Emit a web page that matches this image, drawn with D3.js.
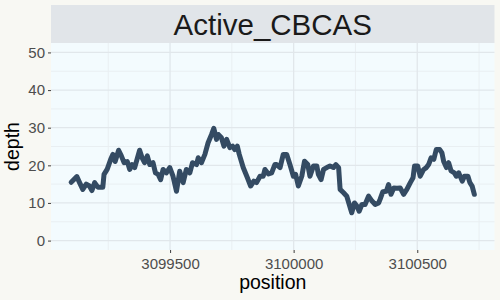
<!DOCTYPE html>
<html lang="en">
<head>
  <meta charset="UTF-8" />
  <title>Active_CBCAS depth</title>
  <script src="https://d3js.org/d3.v7.min.js"></script>
  <style>
    body { margin: 0; background: #f8f8f3; }
    svg { display: block; font-family: "Liberation Sans", Arial, sans-serif; }
  </style>
</head>
<body>
  <svg id="chart" width="500" height="300"></svg>

  <script>
    const title = "Active_CBCAS";

    const positions = [
      3099100, 3099123, 3099134, 3099147, 3099161, 3099174, 3099184, 3099195, 3099208, 3099228,
      3099233, 3099246, 3099260, 3099269, 3099278, 3099292, 3099303, 3099314, 3099327, 3099337,
      3099346, 3099357, 3099377, 3099387, 3099397, 3099408, 3099418, 3099431, 3099441, 3099452,
      3099462, 3099472, 3099485, 3099499, 3099512, 3099526, 3099539, 3099553, 3099566, 3099580,
      3099591, 3099607, 3099614, 3099627, 3099641, 3099654, 3099668, 3099677, 3099688, 3099695,
      3099708, 3099718, 3099729, 3099742, 3099753, 3099762, 3099772, 3099780, 3099796, 3099813,
      3099826, 3099839, 3099850, 3099864, 3099877, 3099884, 3099898, 3099911, 3099924, 3099931,
      3099945, 3099958, 3099972, 3099985, 3099999, 3100008, 3100019, 3100033, 3100044, 3100057,
      3100066, 3100080, 3100094, 3100100, 3100111, 3100121, 3100134, 3100147, 3100161, 3100171,
      3100182, 3100188, 3100202, 3100215, 3100225, 3100235, 3100246, 3100256, 3100265, 3100276,
      3100289, 3100303, 3100317, 3100330, 3100344, 3100350, 3100361, 3100375, 3100384, 3100394,
      3100405, 3100418, 3100431, 3100445, 3100458, 3100472, 3100483, 3100489, 3100502, 3100512,
      3100526, 3100537, 3100546, 3100556, 3100567, 3100577, 3100591, 3100600, 3100607, 3100618,
      3100627, 3100637, 3100650, 3100658, 3100668, 3100682, 3100691, 3100705, 3100713, 3100722,
      3100731
    ];

    const depths = [
      15.5, 17, 15.4, 13.6, 15, 14.5, 13.3, 15.4, 14.2, 14.2,
      17.6, 19, 21.6, 22.9, 21, 24, 22.5, 20.7, 21, 18.9,
      20.2, 19.4, 24, 22, 20.7, 22.5, 20.2, 20.7, 18, 17.6,
      16.2, 18.9, 18, 19.4, 17.1, 13.1, 18.4, 15.4, 18.9, 18,
      20.7, 20.2, 22, 20.7, 22.9, 26, 28.2, 29.8, 26.9, 28.2,
      27.3, 25.1, 26.9, 24.7, 25.1, 24.2, 25.1, 22.9, 19.4, 16.7,
      14.5, 15.8, 15.4, 17.1, 17.1, 18.9, 17.7, 18, 20.2, 20.2,
      19.4, 22.9, 22.9, 20.2, 17.1, 17.6, 14.5, 17.1, 21.1, 20.2,
      17.1, 19.8, 19.8, 17.6, 16.2, 18.9, 19.4, 19.8, 19.4, 20.2,
      19.4, 13.6, 12.7, 11.8, 9.6, 7.4, 10, 9.2, 7.8, 9.6,
      9.6, 11.8, 10.5, 9.6, 10, 11, 13, 13.1, 14.9, 12.3,
      14, 13.9, 14, 12.3, 13.6, 15.4, 16.7, 19.8, 19.8, 17.1,
      18.9, 19.4, 20.2, 22, 21.6, 24.2, 24.2, 23.3, 21, 19.4,
      20.7, 18.5, 18, 17.1, 18, 15.8, 17.1, 17.1, 15.4, 14.5,
      12.3
    ];

    const xTicks = [3099500, 3100000, 3100500];
    const xMinor = [3099250, 3099750, 3100250, 3100750];
    const yTicks = [0, 10, 20, 30, 40, 50];
    const yMinor = [5, 15, 25, 35, 45];
    const yLimits = [0, 50];

    const svg = d3.select("#chart");
    const width = +svg.attr("width");
    const height = +svg.attr("height");

    const margin = { top: 43, right: 5.5, bottom: 50, left: 51 };
    const stripTop = 5;
    const innerWidth = width - margin.left - margin.right;
    const innerHeight = height - margin.top - margin.bottom;

    const data = positions.map((p, i) => ({ position: p, depth: depths[i] }));

    // ggplot-style 5% expansion
    const xExt = d3.extent(positions);
    const xPad = (xExt[1] - xExt[0]) * 0.05;
    const yPad = (yLimits[1] - yLimits[0]) * 0.05;

    const x = d3.scaleLinear()
      .domain([xExt[0] - xPad, xExt[1] + xPad])
      .range([0, innerWidth]);

    const y = d3.scaleLinear()
      .domain([yLimits[0] - yPad, yLimits[1] + yPad])
      .range([innerHeight, 0]);

    svg.append("rect")
      .attr("width", width).attr("height", height)
      .attr("fill", "#f8f8f3");

    // strip
    svg.append("rect")
      .attr("x", margin.left).attr("y", stripTop)
      .attr("width", innerWidth).attr("height", margin.top - stripTop)
      .attr("fill", "#e1e5e9");

    svg.append("text")
      .attr("x", margin.left + innerWidth / 2)
      .attr("y", 34.5)
      .attr("text-anchor", "middle")
      .attr("fill", "#1a1a1a")
      .style("font-size", "29.5px")
      .text(title);

    const g = svg.append("g").attr("transform", `translate(${margin.left},${margin.top})`);

    g.append("rect")
      .attr("width", innerWidth).attr("height", innerHeight)
      .attr("fill", "#f3fbfe");

    // grid
    g.selectAll(".ygrid-minor").data(yMinor).join("line")
      .attr("x1", 0).attr("x2", innerWidth)
      .attr("y1", d => y(d)).attr("y2", d => y(d))
      .attr("stroke", "#e9eff2").attr("stroke-width", 1);
    g.selectAll(".xgrid-minor").data(xMinor).join("line")
      .attr("y1", 0).attr("y2", innerHeight)
      .attr("x1", d => x(d)).attr("x2", d => x(d))
      .attr("stroke", "#e9eff2").attr("stroke-width", 1);
    g.selectAll(".ygrid").data(yTicks).join("line")
      .attr("x1", 0).attr("x2", innerWidth)
      .attr("y1", d => y(d)).attr("y2", d => y(d))
      .attr("stroke", "#e1e7eb").attr("stroke-width", 1.3);
    g.selectAll(".xgrid").data(xTicks).join("line")
      .attr("y1", 0).attr("y2", innerHeight)
      .attr("x1", d => x(d)).attr("x2", d => x(d))
      .attr("stroke", "#e1e7eb").attr("stroke-width", 1.3);

    // depth line
    const line = d3.line()
      .x(d => x(d.position))
      .y(d => y(d.depth));

    g.append("path")
      .datum(data)
      .attr("d", line)
      .attr("fill", "none")
      .attr("stroke", "#344b63")
      .attr("stroke-width", 5)
      .attr("stroke-linejoin", "round")
      .attr("stroke-linecap", "round");

    // axes
    const xAxis = g.append("g")
      .attr("transform", `translate(0,${innerHeight})`)
      .call(d3.axisBottom(x).tickValues(xTicks).tickFormat(d3.format("d")).tickSize(3).tickPadding(5));
    const yAxis = g.append("g")
      .call(d3.axisLeft(y).tickValues(yTicks).tickSize(3).tickPadding(3));

    [xAxis, yAxis].forEach(a => {
      a.attr("font-size", null).attr("font-family", null);
      a.select(".domain").remove();
      a.selectAll(".tick line").attr("stroke", "#4d4d4d").attr("stroke-width", 1.1);
      a.selectAll(".tick text")
        .attr("fill", "#4d4d4d")
        .style("font-size", "15px");
    });

    svg.append("text")
      .attr("x", margin.left + innerWidth / 2)
      .attr("y", 289)
      .attr("text-anchor", "middle")
      .attr("fill", "#000")
      .style("font-size", "19.5px")
      .text("position");

    svg.append("text")
      .attr("transform", `translate(19,${margin.top + innerHeight / 2}) rotate(-90)`)
      .attr("text-anchor", "middle")
      .attr("fill", "#000")
      .style("font-size", "19.5px")
      .text("depth");
  </script>
</body>
</html>
